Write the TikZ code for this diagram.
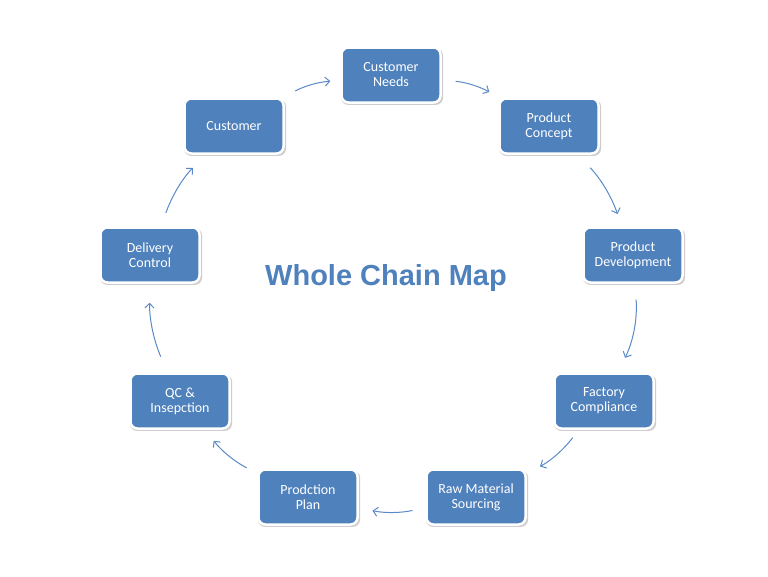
\documentclass[tikz,border=0pt]{standalone}
\usepackage{fontspec}
\setmainfont{Carlito}
\newfontfamily\titlefont{Liberation Sans}
\usetikzlibrary{arrows.meta,shadows}
\definecolor{boxblue}{HTML}{4F81BD}
\definecolor{arrblue}{HTML}{5A8AC8}
\definecolor{titleblue}{HTML}{4F81BD}
\begin{document}
\begin{tikzpicture}[x=1pt,y=-1pt,
  stage/.style={rectangle, rounded corners=7pt, fill=boxblue, draw=white,
    line width=2.5pt, minimum width=99pt, minimum height=55pt, text=white,
    font=\fontsize{14}{15}\selectfont, align=center, inner sep=2pt,
    drop shadow={shadow xshift=1pt, shadow yshift=-1.5pt, shadow scale=1.03, opacity=0.28, fill=black!70}},
  flow/.style={draw=arrblue, line width=1pt, -{Straight Barb[length=4.5pt,width=9pt]}}]
\useasboundingbox (0,0) rectangle (768,576);
\fill[white] (0,0) rectangle (768,576);
\node[stage] (needs) at (391,75) {Customer\\Needs};
\node[stage] (concept) at (549,126) {Product\\Concept};
\node[stage] (dev) at (633,255) {Product\\Development};
\node[stage] (factory) at (604,401) {Factory\\Compliance};
\node[stage] (raw) at (476,497) {Raw Material\\Sourcing};
\node[stage] (plan) at (308,497) {Prodction\\Plan};
\node[stage] (qc) at (180,401) {QC \&\\Insepction};
\node[stage] (delivery) at (150,255) {Delivery\\Control};
\node[stage] (customer) at (234,126) {Customer};
\node[font=\titlefont\bfseries\fontsize{29}{34}\selectfont, text=titleblue] (title) at (386,278) {Whole Chain Map};
\draw[flow, shorten <=13pt, shorten >=10pt] (customer) to[bend left=12] (needs);
\draw[flow, shorten <=14pt, shorten >=11pt] (needs) to[bend left=12] (concept);
\draw[flow, shorten <=18pt, shorten >=13pt] (concept) to[bend left=12] (dev);
\draw[flow, shorten <=16pt, shorten >=16pt] (dev) to[bend left=15] (factory);
\draw[flow, shorten <=10pt, shorten >=15pt] (factory) to[bend left=12] (raw);
\draw[flow, shorten <=13pt, shorten >=14pt] (raw) to[bend left=12] (plan);
\draw[flow, shorten <=12pt, shorten >=14pt] (plan) to[bend left=12] (qc);
\draw[flow, shorten <=17pt, shorten >=19pt] (qc) to[bend left=12] (delivery);
\draw[flow, shorten <=14pt, shorten >=18pt] (delivery) to[bend left=12] (customer);
\end{tikzpicture}
\end{document}
